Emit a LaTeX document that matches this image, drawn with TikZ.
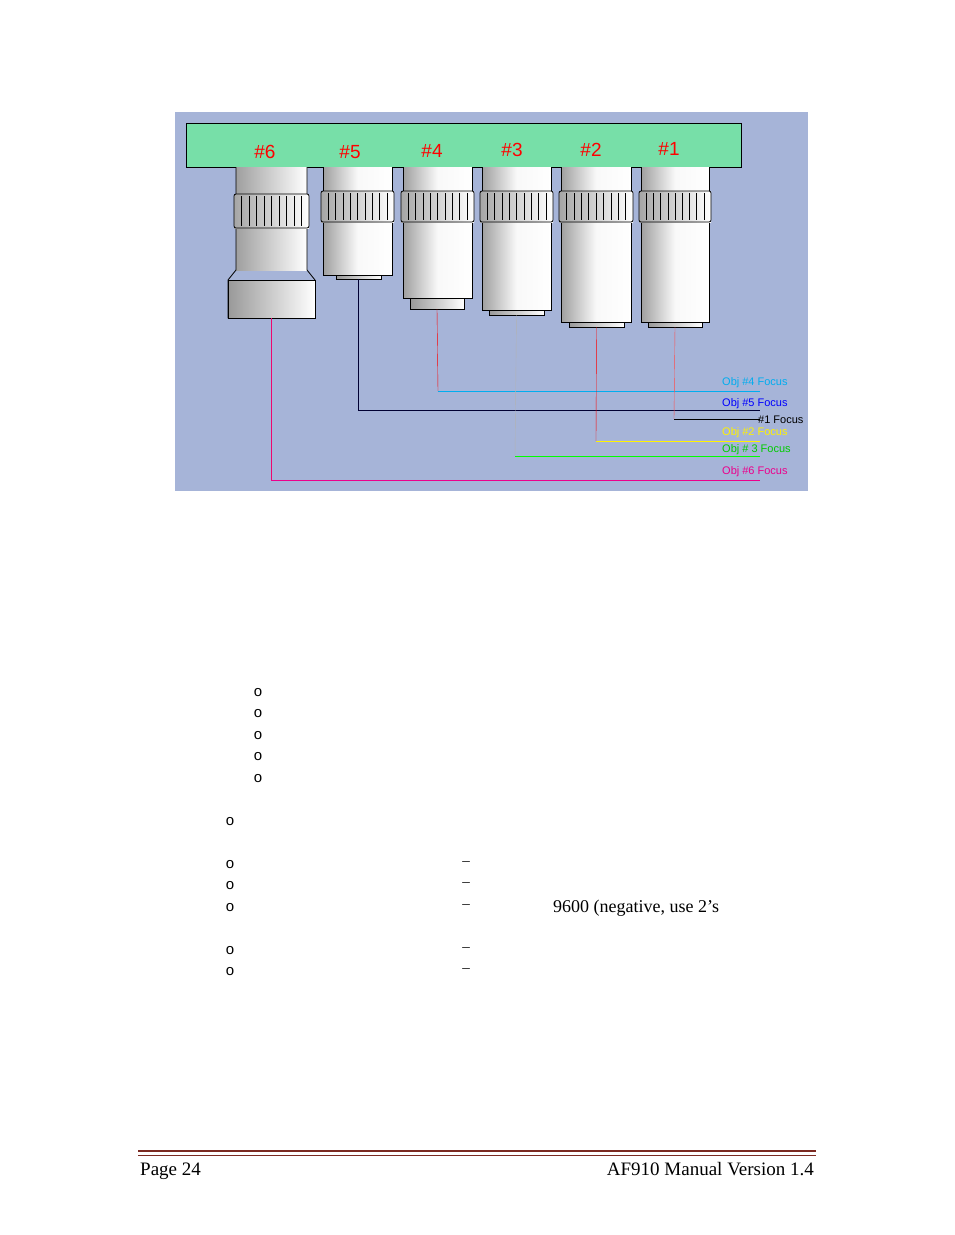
\documentclass[tikz,border=0pt]{standalone}
\usepackage{fontspec}
\setmainfont{Liberation Serif}
\newfontfamily\labelfont{Liberation Sans}
\usetikzlibrary{positioning}
\definecolor{panelblue}{HTML}{A6B4D8}
\definecolor{turretgreen}{HTML}{77DFA8}
\definecolor{footred}{HTML}{7B2A22}
% one objective: name, left, right, body bottom, tip left, tip right, tip bottom
\newcommand{\objlens}[7]{%
  \fill[left color=gray!75, right color=white, middle color=white!95!gray] (#2,167) rectangle (#3,#4);
  \draw[thick] (#2,167) -- (#2,#4) -- (#3,#4) -- (#3,167);
  \fill[left color=gray!80, right color=white] (#5,#4) rectangle (#6,#7);
  \draw[thick] (#5,#4) rectangle (#6,#7);
  \fill[left color=gray!70, right color=white] (#2-2,191) rectangle (#3+2,222);
  \draw[thick, rounded corners=2pt] (#2-2,191) rectangle (#3+2,222);
  \foreach \k in {1,...,9} {\draw ({#2-2+\k*(#3-#2+4)/10},193) -- ++(0,27);}
  \coordinate (#1) at ({(#5+#6)/2},#7);
}
\begin{document}
\begin{tikzpicture}[x=1pt, y=-1pt,
    numlabel/.style={text=red, font=\labelfont\fontsize{19}{19}\selectfont},
    focuslabel/.style={anchor=west, font=\labelfont\fontsize{11}{12}\selectfont, inner sep=0pt},
    bodytext/.style={anchor=west, font=\fontsize{18}{20}\selectfont, inner sep=0pt},
    foottext/.style={font=\fontsize{19}{21}\selectfont, inner sep=0pt},
    bullet/.style={anchor=center, font=\labelfont\fontsize{15}{16}\selectfont, inner sep=0pt},
    dashmark/.style={anchor=center, font=\fontsize{15}{16}\selectfont, inner sep=0pt},
  ]
  \useasboundingbox[fill=white] (0,0) rectangle (954,1235);
  \fill[panelblue] (175,112) rectangle (808,491);
  \draw[fill=turretgreen] (186,123) rectangle (741,167);
  % objective #6
  \fill[left color=gray!75, right color=white] (236,167) rectangle (307,270);
  \draw[thick] (236,167) -- (236,270) -- (228,280) -- (228,318) -- (315,318) -- (315,280) -- (307,270) -- (307,167);
  \fill[left color=gray!80, right color=white] (228,280) rectangle (315,318);
  \draw[thick] (228,280) rectangle (315,318);
  \fill[left color=gray!70, right color=white] (234,194) rectangle (309,228);
  \draw[thick, rounded corners=2pt] (234,194) rectangle (309,228);
  \foreach \k in {1,...,9} {\draw ({234+\k*7.5},196) -- ++(0,30);}
  \coordinate (tip6) at (271,318);
  \objlens{tip5}{323}{392}{275}{336}{381}{279}
  \objlens{tip4}{403}{472}{298}{410}{464}{309}
  \objlens{tip3}{482}{551}{310}{489}{544}{315}
  \objlens{tip2}{561}{631}{322}{569}{624}{327}
  \objlens{tip1}{641}{709}{322}{648}{702}{327}
  % numbers
  \node[numlabel] (n6) at (265,152) {\#6};
  \node[numlabel] (n5) at (350,152) {\#5};
  \node[numlabel] (n4) at (432,151) {\#4};
  \node[numlabel] (n3) at (512,150) {\#3};
  \node[numlabel] (n2) at (591,150) {\#2};
  \node[numlabel] (n1) at (669,149) {\#1};
  % focus lines
  \coordinate (end4) at (760,391);
  \coordinate (end5) at (760,410);
  \coordinate (end1) at (760,419);
  \coordinate (end2) at (760,441);
  \coordinate (end3) at (760,456);
  \coordinate (end6) at (760,480);
  \draw[cyan] (438,391) -- (end4);
  \draw[red] (tip4) -- (438,391);
  \draw[black!80!blue] (tip5) |- (end5);
  \draw[red!70] (tip1) -- (674,419);
  \draw (674,419) -- (end1);
  \draw[red] (tip2) -- (596,441);
  \draw[yellow] (596,441) -- (end2);
  \draw[gray!60] (tip3) -- (515,456);
  \draw[green] (515,456) -- (end3);
  \draw[magenta!70!red] (tip6) -- (271,480);
  \draw[magenta] (271,480) -- (end6);
  \node[focuslabel, text=cyan] (f4) at (722,383) {Obj \#4 Focus};
  \node[focuslabel, text=blue] (f5) at (722,404) {Obj \#5 Focus};
  \node[focuslabel] (f1) at (758,420) {\#1 Focus};
  \node[focuslabel, text=yellow] (f2) at (722,433) {Obj \#2 Focus};
  \node[focuslabel, text=green!80!black] (f3) at (722,450) {Obj \# 3 Focus};
  \node[focuslabel, text=magenta] (f6) at (722,472) {Obj \#6 Focus};
  % page text
  \foreach \yy in {693,714,736,757,779} {\node[bullet] at (258,\yy) {o};}
  \foreach \yy in {822,865,886,908,951,972} {\node[bullet] at (230,\yy) {o};}
  \foreach \yy in {864,885,907,950,971} {\node[dashmark] at (466,\yy) {–};}
  \node[bodytext] (neg) at (553,908) {9600 (negative, use 2’s};
  % footer
  \draw[footred, line width=2.5pt] (138,1151) -- (816,1151);
  \draw[footred, line width=0.6pt] (138,1155.5) -- (816,1155.5);
  \node[foottext, anchor=base west] (page) at (140,1175) {Page 24};
  \node[foottext, anchor=base east] (ver) at (814,1175) {AF910 Manual Version 1.4};
\end{tikzpicture}
\end{document}
